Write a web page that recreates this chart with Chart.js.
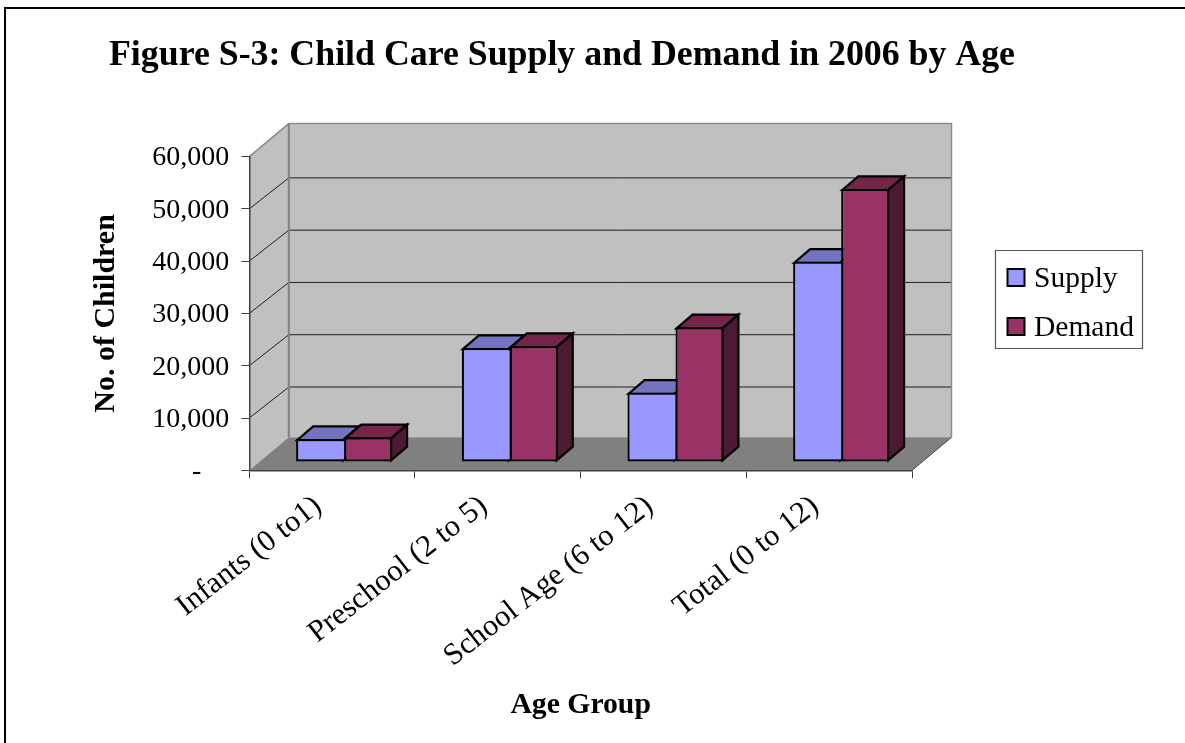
<!DOCTYPE html>
<html>
<head>
<meta charset="utf-8">
<style>
  html, body { margin: 0; padding: 0; background: #fff; }
  #wrap { position: relative; width: 1185px; height: 743px; }
</style>
<script src="https://cdn.jsdelivr.net/npm/chart.js@4/dist/chart.umd.js"></script>
</head>
<body>
<div id="wrap"><canvas id="c" width="1185" height="743"></canvas></div>
<script>
const categories = ['Infants (0 to1)', 'Preschool (2 to 5)', 'School Age (6 to 12)', 'Total (0 to 12)'];
const supply = [4400, 21810, 13260, 38320];
const demand = [4725, 22190, 25770, 52230];
const yTicks = [0, 10000, 20000, 30000, 40000, 50000, 60000];
const serif = '"Liberation Serif", "Times New Roman", serif';

// Depth of the walls and of the bars, in pixels.
const WALL_DX = 39.5, WALL_DY = -33, GRID_DY = -31;
const BAR_DX = 16, BAR_DY = -13.7;
const BAR_SHIFT_X = 12, BAR_SHIFT_Y = -8.3;
const BAR_LINE = 2.2;

function poly(ctx, pts, fill, stroke, lw) {
  ctx.beginPath();
  pts.forEach((p, i) => i ? ctx.lineTo(p[0], p[1]) : ctx.moveTo(p[0], p[1]));
  ctx.closePath();
  if (fill) { ctx.fillStyle = fill; ctx.fill(); }
  if (stroke) { ctx.strokeStyle = stroke; ctx.lineWidth = lw; ctx.lineJoin = 'miter'; ctx.stroke(); }
}
function line(ctx, x1, y1, x2, y2, color, lw) {
  ctx.beginPath(); ctx.moveTo(x1, y1); ctx.lineTo(x2, y2);
  ctx.strokeStyle = color; ctx.lineWidth = lw; ctx.stroke();
}

const room = {
  id: 'room',
  beforeDraw(chart) {
    const { ctx, chartArea: a, scales: { y } } = chart;
    const l = a.left, r = a.right, t = a.top, b = a.bottom;
    const bl = l + WALL_DX, br = r + WALL_DX, bt = t + WALL_DY, bb = b + WALL_DY;
    ctx.save();
    // Page frame
    ctx.fillStyle = '#fff'; ctx.fillRect(0, 0, chart.width, chart.height);
    line(ctx, 5, 8, 1185, 8, '#000', 2);
    line(ctx, 5, 7, 5, 743, '#000', 2);
    // Back wall, side wall, floor
    poly(ctx, [[bl, bt], [br, bt], [br, bb], [bl, bb]], '#C0C0C0');
    poly(ctx, [[l, t], [bl, bt], [bl, bb], [l, b]], '#C0C0C0');
    poly(ctx, [[l, b], [bl, bb], [br, bb], [r, b]], '#808080');
    // Gridlines run along the side wall and across the back wall
    yTicks.slice(1, -1).forEach(v => {
      const py = y.getPixelForValue(v);
      ctx.beginPath();
      ctx.moveTo(l, py); ctx.lineTo(bl, py + GRID_DY); ctx.lineTo(br, py + GRID_DY);
      ctx.strokeStyle = '#1f1f1f'; ctx.lineWidth = 1; ctx.stroke();
    });
    // Wall edges
    ctx.beginPath();
    ctx.moveTo(l, t); ctx.lineTo(bl, bt); ctx.lineTo(br, bt); ctx.lineTo(br, bb);
    ctx.strokeStyle = '#8c8c8c'; ctx.lineWidth = 1.5; ctx.stroke();
    line(ctx, bl, bt, bl, bb, '#808080', 2);
    line(ctx, r, b, br, bb, '#404040', 1);
    ctx.restore();
  },
  beforeDatasetsDraw(chart) {
    // Top and side faces, left series first so the right series overlaps it
    const { ctx } = chart;
    const inset = BAR_LINE / 2;
    ctx.save();
    ctx.translate(BAR_SHIFT_X, BAR_SHIFT_Y);
    chart.data.datasets.forEach((ds, i) => {
      chart.getDatasetMeta(i).data.forEach(bar => {
        const p = bar.getProps(['x', 'y', 'base', 'width'], true);
        const L = p.x - p.width / 2 + inset, R = p.x + p.width / 2 - inset;
        const T = p.y + inset, B = p.base - inset;
        poly(ctx, [[L, T], [L + BAR_DX, T + BAR_DY], [R + BAR_DX, T + BAR_DY], [R, T]], ds.topColor, '#000', BAR_LINE);
        poly(ctx, [[R, T], [R + BAR_DX, T + BAR_DY], [R + BAR_DX, B + BAR_DY], [R, B]], ds.sideColor, '#000', BAR_LINE);
      });
    });
    ctx.restore();
  },
  beforeDatasetDraw(chart) {
    chart.ctx.save();
    chart.ctx.translate(BAR_SHIFT_X, BAR_SHIFT_Y);
  },
  afterDatasetDraw(chart) {
    chart.ctx.restore();
  },
  afterLayout(chart) {
    // Title is centred over the plot rather than the page
    const t = chart.titleBlock;
    t.left = 109; t.right = 1015; t.width = 906;
    t.top = 24; t.bottom = 87; t.height = 63;
  },
  afterDraw(chart) {
    const { ctx } = chart;
    ctx.save();
    poly(ctx, [[995.5, 250.5], [1142.5, 250.5], [1142.5, 348.5], [995.5, 348.5]], '#fff', '#555', 1.2);
    chart.data.datasets.forEach((ds, i) => {
      const cy = 277.5 + i * 49;
      poly(ctx, [[1007.5, cy - 8.5], [1024.5, cy - 8.5], [1024.5, cy + 8.5], [1007.5, cy + 8.5]], ds.backgroundColor, '#000', 2);
      ctx.fillStyle = '#000';
      ctx.font = '29.5px ' + serif;
      ctx.textAlign = 'left';
      ctx.textBaseline = 'middle';
      ctx.fillText(ds.label, 1034, cy + 2);
    });
    ctx.restore();
  }
};

new Chart(document.getElementById('c'), {
  type: 'bar',
  data: {
    labels: categories,
    datasets: [
      // The shared edge between the two bars of a pair is stroked once, by the right-hand bar
      { label: 'Supply', data: supply, backgroundColor: '#9999FF', topColor: '#7373BF', sideColor: '#4D4D80',
        borderColor: '#000', borderWidth: { top: BAR_LINE, left: BAR_LINE, bottom: BAR_LINE, right: 0 },
        borderSkipped: false, categoryPercentage: 0.58, barPercentage: 1 },
      { label: 'Demand', data: demand, backgroundColor: '#993366', topColor: '#732649', sideColor: '#4D1A33',
        borderColor: '#000', borderWidth: BAR_LINE, borderSkipped: false, categoryPercentage: 0.58, barPercentage: 1 }
    ]
  },
  options: {
    responsive: false,
    animation: false,
    layout: { padding: { left: 0, right: 273, top: 93.4, bottom: 0 } },
    plugins: {
      legend: { display: false },
      tooltip: { enabled: false },
      title: {
        display: true,
        text: 'Figure S-3: Child Care Supply and Demand in 2006 by Age',
        color: '#000',
        font: { family: serif, size: 36, weight: 'bold' },
        padding: { top: 10, bottom: 10 }
      }
    },
    scales: {
      x: {
        afterFit(s) { s.height = 272.7; },
        grid: { offset: true, drawOnChartArea: false, color: '#404040', tickLength: 8 },
        border: { color: '#404040', width: 1.5 },
        ticks: { color: '#000', font: { family: serif, size: 30.5 }, minRotation: 38, maxRotation: 38, padding: 10, labelOffset: -14 },
        title: { display: true, text: 'Age Group', color: '#000', font: { family: serif, size: 29.7, weight: 'bold' }, padding: { top: 0, bottom: 20 } }
      },
      y: {
        min: 0, max: 60000,
        afterFit(s) { s.width = 249.3; },
        afterBuildTicks(s) { s.ticks = yTicks.map(v => ({ value: v })); },
        grid: { drawOnChartArea: false, color: '#404040', tickLength: 8 },
        border: { color: '#404040', width: 1.5 },
        ticks: {
          color: '#000', font: { family: serif, size: 28 }, padding: 12, labelOffset: 1.5,
          callback: v => v === 0 ? '-    ' : v.toLocaleString('en-US')
        },
        title: { display: true, text: 'No. of Children', color: '#000', font: { family: serif, size: 30, weight: 'bold' }, padding: { top: 88, bottom: 0 } }
      }
    }
  },
  plugins: [room]
});
</script>
</body>
</html>
